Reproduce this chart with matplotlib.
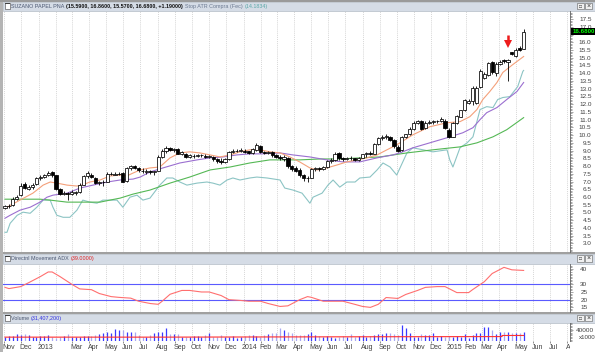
import datetime as dt
import numpy as np
import matplotlib
matplotlib.use("Agg")
import matplotlib.pyplot as plt
from matplotlib.patches import Rectangle

plt.rcParams['font.family'] = ['Liberation Sans', 'DejaVu Sans']

# weekly bars, first bar on 2012-11-02, last on 2015-05-15
first_bar = dt.date(2012, 11, 2)

open_px = [5.30, 5.40, 5.50, 5.90, 6.10, 6.85, 6.50, 6.65, 6.85, 7.20,
           7.30, 7.40, 7.60, 7.40, 6.50, 6.20, 6.25, 6.20, 6.25, 6.30,
           6.80, 7.35, 7.45, 7.25, 6.90, 6.95, 7.00, 7.50, 7.45, 7.50,
           7.55, 7.05, 7.85, 8.00, 7.85, 7.70, 7.60, 7.65, 7.60, 7.70,
           8.60, 8.95, 9.15, 9.05, 9.10, 8.80, 8.80, 8.60, 8.65, 8.65,
           8.70, 8.65, 8.60, 8.60, 8.45, 8.35, 8.25, 8.45, 8.90, 9.00,
           8.95, 9.00, 8.95, 8.85, 9.05, 9.30, 8.90, 8.85, 8.90, 8.70,
           8.60, 8.45, 8.55, 8.00, 7.90, 7.75, 7.40, 7.20, 7.25, 7.80,
           7.85, 7.80, 7.95, 8.30, 8.40, 8.85, 8.50, 8.45, 8.55, 8.50,
           8.40, 8.55, 8.75, 8.85, 8.80, 9.40, 9.80, 9.85, 9.90, 9.70,
           9.25, 9.05, 9.85, 10.05, 10.40, 10.80, 10.90, 10.45, 10.80, 10.85,
           10.90, 10.90, 10.90, 10.35, 9.90, 10.80, 11.20, 11.60, 12.10, 12.20,
           12.05, 13.10, 13.70, 13.90, 14.70, 14.00, 14.60, 14.85, 14.70, 15.35,
           15.10, 15.65, 15.59]
high_px = [5.50, 5.55, 6.00, 6.10, 6.90, 6.95, 6.75, 6.90, 7.30, 7.40,
           7.50, 7.70, 7.65, 7.45, 6.60, 6.40, 6.35, 6.45, 6.40, 6.90,
           7.45, 7.70, 7.55, 7.30, 7.05, 7.10, 7.60, 7.60, 7.60, 7.60,
           7.60, 7.95, 8.10, 8.10, 7.95, 7.85, 7.80, 7.75, 7.70, 8.70,
           9.10, 9.30, 9.25, 9.20, 9.15, 9.00, 8.85, 8.80, 8.75, 8.80,
           8.80, 8.75, 8.70, 8.65, 8.55, 8.50, 8.50, 9.00, 9.10, 9.10,
           9.15, 9.10, 9.00, 9.20, 9.50, 9.35, 9.00, 9.00, 8.95, 8.80,
           8.70, 8.70, 8.60, 8.10, 8.00, 7.85, 7.50, 7.35, 7.90, 7.95,
           7.95, 8.00, 8.40, 8.50, 8.90, 8.90, 8.60, 8.60, 8.65, 8.55,
           8.60, 8.80, 8.90, 8.95, 9.50, 9.90, 10.00, 10.05, 9.95, 9.75,
           9.35, 9.95, 10.10, 10.50, 10.90, 10.95, 10.95, 10.90, 10.95, 10.95,
           11.00, 11.15, 11.05, 10.45, 10.85, 11.30, 11.65, 12.35, 12.35, 13.15,
           13.15, 14.25, 14.05, 14.75, 14.80, 14.70, 14.85, 14.95, 14.95, 15.40,
           15.60, 15.75, 16.86]
low_px = [5.20, 5.30, 5.45, 5.80, 6.05, 6.50, 6.45, 6.55, 6.80, 7.10,
          7.20, 7.35, 7.30, 6.45, 6.10, 6.10, 5.80, 6.10, 6.15, 6.25,
          6.75, 7.25, 7.20, 6.85, 6.80, 6.70, 6.95, 7.40, 7.40, 7.40,
          6.95, 7.00, 7.75, 7.80, 7.60, 7.55, 7.50, 7.50, 7.45, 7.65,
          8.55, 8.85, 8.95, 8.90, 8.75, 8.70, 8.50, 8.55, 8.50, 8.60,
          8.60, 8.55, 8.50, 8.35, 8.20, 8.15, 8.20, 8.40, 8.85, 8.90,
          8.90, 8.85, 8.80, 8.80, 9.00, 8.85, 8.75, 8.80, 8.60, 8.50,
          8.40, 8.35, 7.90, 7.70, 7.60, 7.30, 7.05, 7.00, 7.20, 7.70,
          7.70, 7.75, 7.90, 8.20, 8.35, 8.40, 8.35, 8.40, 8.40, 8.30,
          8.35, 8.50, 8.60, 8.70, 8.75, 9.35, 9.70, 9.75, 9.60, 9.20,
          8.90, 9.00, 9.80, 10.00, 10.35, 10.70, 10.35, 10.40, 10.70, 10.75,
          10.80, 10.85, 10.40, 9.80, 9.85, 10.75, 11.15, 11.55, 12.00, 11.95,
          12.00, 13.05, 13.60, 13.85, 13.95, 13.85, 14.55, 14.65, 13.50, 15.20,
          15.05, 15.45, 15.57]
close_px = [5.40, 5.40, 5.90, 6.00, 6.70, 6.60, 6.65, 6.80, 7.20, 7.30,
            7.40, 7.55, 7.40, 6.55, 6.20, 6.25, 6.20, 6.30, 6.30, 6.80,
            7.35, 7.55, 7.30, 6.90, 6.95, 7.00, 7.50, 7.50, 7.50, 7.50,
            7.00, 7.85, 8.00, 7.90, 7.75, 7.65, 7.70, 7.60, 7.65, 8.60,
            9.00, 9.20, 9.05, 9.10, 8.80, 8.90, 8.60, 8.70, 8.65, 8.70,
            8.70, 8.60, 8.65, 8.45, 8.30, 8.25, 8.45, 8.90, 9.00, 9.00,
            9.05, 8.90, 8.85, 9.10, 9.35, 8.90, 8.85, 8.90, 8.70, 8.60,
            8.50, 8.60, 8.00, 7.80, 7.70, 7.40, 7.20, 7.25, 7.80, 7.85,
            7.80, 7.95, 8.30, 8.40, 8.80, 8.50, 8.45, 8.55, 8.50, 8.40,
            8.55, 8.75, 8.85, 8.80, 9.40, 9.80, 9.85, 9.95, 9.70, 9.30,
            9.00, 9.85, 10.05, 10.40, 10.80, 10.90, 10.40, 10.80, 10.85, 10.90,
            10.90, 11.05, 10.45, 9.85, 10.80, 11.25, 11.60, 12.25, 12.20, 13.05,
            13.05, 14.15, 13.95, 14.65, 14.05, 14.60, 14.75, 14.80, 14.85, 15.25,
            15.50, 15.50, 16.68]

volume_m = [16, 18, 18, 25, 22, 25, 22, 16, 16, 19,
            18, 22, 16, 10, 16, 18, 24, 16, 16, 16,
            18, 19, 18, 22, 25, 28, 34, 28, 42, 40,
            40, 34, 34, 31, 22, 13, 16, 22, 28, 34,
            34, 48, 25, 24, 24, 16, 16, 16, 18, 18,
            16, 22, 28, 13, 16, 22, 16, 16, 18, 10,
            16, 19, 21, 22, 19, 16, 22, 25, 30, 28,
            46, 40, 34, 30, 22, 22, 22, 24, 34, 22,
            18, 16, 18, 13, 10, 16, 18, 16, 24, 16,
            18, 22, 16, 18, 22, 24, 24, 28, 28, 26,
            22, 58, 46, 30, 16, 16, 24, 20, 22, 28,
            16, 18, 16, 18, 16, 17, 16, 24, 12, 20,
            28, 28, 50, 50, 40, 24, 34, 34, 31, 28,
            28, 28, 31.4]
vol_avg_week = [0, 40, 80, 100, 126.5, 126.5, 132]
vol_avg_m = [14, 14, 15, 15.5, 16, 20, 20]

# indicator lines: (week index, value)
ema_fast_week = [0.5, 3.8, 7.1, 9.7, 11.5, 13.2, 15.8, 18.3, 19.6, 21.6, 24.2, 26.7, 29.3, 31,
                 32.6, 34.4, 36.9, 39.4, 42, 44.5, 47, 49.6, 52.2, 54.7, 57.3, 59.8, 62.3, 64.9,
                 67.4, 70, 72.5, 75, 77.6, 79.4, 81.9, 84.5, 87, 89.6, 92.1, 94.7, 97.2, 99.7,
                 103.8, 108.1, 112.5, 115.8, 118.3, 120.1, 121.6, 123.4, 125.2, 126.7, 129.3, 132]
ema_fast = [5.34, 5.80, 6.25, 6.77, 6.97, 6.90, 6.77, 6.71, 6.77, 6.97, 7.10, 7.36, 7.42, 7.36,
            7.55, 7.75, 7.88, 7.94, 8.53, 8.85, 8.92, 8.85, 8.72, 8.59, 8.72, 8.92, 9.05, 9.05,
            8.92, 8.85, 8.59, 8.27, 7.88, 7.75, 7.88, 8.07, 8.27, 8.40, 8.53, 8.72, 9.05, 9.37,
            10.02, 10.54, 10.80, 10.87, 11.19, 11.65, 12.30, 12.82, 13.40, 14.05, 14.57, 15.08]

ema_mid_week = [0, 1.3, 3.8, 6.4, 8.9, 10.7, 12.2, 15.8, 19.1, 22.4, 26, 29.3, 32.6, 34.4,
                36.9, 40.2, 44.5, 48.9, 52.2, 55.5, 59, 62.3, 65.6, 70, 73.3, 77.6, 81.9, 86,
                90.3, 94.7, 98.7, 100.5, 103.8, 108.1, 112.5, 116.5, 119.1, 120.9, 122.6,
                125.2, 127.7, 130.3, 132]
ema_mid = [4.63, 4.82, 5.15, 5.34, 5.67, 5.99, 6.12, 6.25, 6.58, 6.77, 6.97, 7.10, 7.16, 7.29,
           7.62, 7.88, 8.20, 8.40, 8.53, 8.59, 8.72, 8.79, 8.79, 8.85, 8.72, 8.59, 8.40, 8.27,
           8.27, 8.53, 8.72, 8.85, 9.18, 9.50, 9.83, 10.15, 10.48, 11.00, 11.45,
           11.78, 12.30, 12.82, 13.40]

ema_slow_week = [0, 3.8, 8.9, 11.5, 15.8, 20.9, 24.2, 26.7, 29.3, 32.6, 36.9, 42, 47, 52.2,
                 57.3, 62.3, 67.4, 75, 80.2, 85.2, 90.3, 95.4, 102.3, 108.9, 115.8, 120.1,
                 124.2, 127.7, 132]
ema_slow = [5.86, 5.86, 5.86, 5.80, 5.67, 5.67, 5.67, 5.80, 5.93, 6.19, 6.45, 6.90, 7.29, 7.75,
            7.94, 8.20, 8.40, 8.40, 8.46, 8.46, 8.53, 8.59, 8.85, 9.05, 9.24, 9.50,
            9.89, 10.35, 11.13]

stop_week = [0, 0.5, 1.3, 3.1, 4.6, 6.4, 8.1, 9.7, 11.5, 12.2, 13.2, 14.8, 16.5, 18.3, 19.8,
             21.6, 23.4, 24.9, 28.5, 30, 31.8, 33.6, 35.1, 36.9, 39.4, 41.2, 42.7, 44.5, 46.3,
             48.9, 51.4, 52.9, 54.7, 56.5, 58, 59.8, 62.3, 64.1, 66.7, 70, 71.2, 73.3, 75.6,
             77.6, 78.4, 80.7, 82.2, 83.5, 85.2, 87, 89.1, 90.3, 92.9, 94.7, 96.2, 98, 99.7,
             102.3, 103.8, 106.4, 108.9, 112.5, 113.2, 114, 115.8, 117.6, 119.1, 120.9, 122.6,
             124.2, 125.4, 126.7, 128.5, 130.5, 131.8, 132]
stop_atr = [3.72, 3.72, 4.30, 4.82, 5.02, 4.95, 5.34, 5.80, 5.80, 5.34, 4.82, 4.69, 4.69, 5.15, 5.80,
            5.67, 5.60, 5.80, 5.80, 5.34, 5.99, 6.12, 5.80, 5.93, 6.77, 7.23, 7.23, 6.97, 6.77,
            6.90, 6.97, 6.90, 6.77, 7.10, 7.23, 7.10, 7.23, 7.29, 7.23, 7.10, 6.58, 6.45, 6.25,
            5.60, 5.99, 6.25, 6.77, 7.10, 6.64, 6.97, 6.97, 7.23, 7.29, 7.75, 8.20, 7.94, 7.42,
            8.85, 9.18, 9.05, 8.92, 9.05, 8.40, 7.94, 9.18, 9.50, 9.89, 11.65, 11.84,
            11.78, 12.30, 12.43, 12.49, 13.14, 14.12, 14.18]

adx_week = [0, 1, 4, 6, 9, 11, 12, 14, 17, 19, 22, 24, 27, 29, 32, 34, 37, 39, 40, 42, 45, 47,
            50, 52, 55, 57, 60, 62, 65, 67, 70, 72, 75, 77, 78, 81, 83, 86, 89, 91, 93, 95, 97,
            100, 102, 105, 107, 110, 112, 115, 118, 119, 122, 124, 127, 129, 132]
adx = [28, 27.2, 28.5, 31, 35, 38, 38, 35, 30, 27, 26.5, 24, 22, 21.5, 21, 19, 17.5, 17, 19,
       23.5, 26, 26, 25, 25, 22.7, 20, 19.5, 19, 19, 17.5, 15.6, 16, 20, 22, 21.5, 19, 19, 19,
       17, 15.6, 15, 17, 21.4, 20.8, 23.4, 26, 28, 28.5, 28.5, 24.6, 24.6, 26.5, 31.7, 37, 41,
       39.4, 39]

W, H = 595, 352
fig = plt.figure(figsize=(W / 100, H / 100), dpi=100)


def px_axes(x0, y0, x1, y1):
    return fig.add_axes([x0 / W, 1 - y1 / H, (x1 - x0) / W, (y1 - y0) / H])


def fig_rect(x0, y0, x1, y1, fc, ec='none', lw=0):
    fig.patches.append(Rectangle((x0 / W, 1 - y1 / H), (x1 - x0) / W, (y1 - y0) / H,
                                 transform=fig.transFigure, fc=fc, ec=ec, lw=lw, zorder=-5))


XL = (-0.51, 143.8)

# month boundaries in week units
months = []
y, m = 2012, 11
while (y, m) <= (2015, 8):
    months.append(dt.date(y, m, 1))
    m += 1
    if m > 12:
        y, m = y + 1, 1
month_pos = [(d - first_bar).days / 7 for d in months]


def month_grid(ax):
    for p in month_pos:
        ax.axvline(p, color='#c8c8c8', lw=0.5, ls=(0, (1.5, 1.5)), zorder=0)


def style_axes(ax):
    ax.set_xlim(*XL)
    ax.set_xticks([])
    for s in ['left', 'top', 'bottom']:
        ax.spines[s].set_visible(False)
    ax.spines['right'].set_color('#606060')
    ax.spines['right'].set_linewidth(0.6)
    ax.yaxis.tick_right()
    ax.tick_params(axis='y', which='both', direction='out', colors='#606060',
                   labelcolor='#404040', labelsize=4.6, length=2.5, width=0.4, pad=13)
    ax.tick_params(axis='y', which='minor', length=1.2)
    ax.patch.set_alpha(0)


# backgrounds / frames
fig_rect(0, 0, 3, H, '#b4b4b4')
fig_rect(0, 0, W, 1.5, '#9a9a9a')
for (a, b) in [(1.5, 11), (254, 263.5), (314, 322.5)]:
    fig_rect(3, a, W, b, '#d5dce6', ec='#a8b0bc', lw=0.4)
fig_rect(3, 251.5, W, 254, '#a0a0a0')
fig_rect(3, 312, W, 314, '#a0a0a0')

# ---------- price panel
ax = px_axes(3, 11, 570, 251.5)
style_axes(ax)
ax.set_ylim(2.48, 18.02)
ticks = np.arange(3.0, 17.51, 0.5)
ax.set_yticks(ticks)
# 16.5 sits under the last-price box, so its label is left blank
ax.set_yticklabels(['' if abs(t - 16.5) < 1e-6 else f'{t:.1f}' for t in ticks])
ax.set_yticks(np.arange(2.5, 18.0, 0.1), minor=True)
for lab in ax.get_yticklabels():
    lab.set_ha('right')
month_grid(ax)

o = np.array(open_px)
h = np.array(high_px)
lo = np.array(low_px)
c = np.array(close_px)
idx = np.arange(len(c))
up = c >= o
ax.plot(stop_week, stop_atr, color='#8cc4c4', lw=0.8, zorder=2)
ax.plot(ema_slow_week, ema_slow, color='#55b855', lw=0.8, zorder=2)
ax.plot(ema_mid_week, ema_mid, color='#9b6fd0', lw=0.8, zorder=2)
ax.plot(ema_fast_week, ema_fast, color='#f4a07a', lw=0.8, zorder=2)
ax.vlines(idx, lo, h, color='black', lw=0.6, zorder=3)
ax.bar(idx, np.abs(c - o), bottom=np.minimum(o, c), width=0.82,
       color=np.where(up, 'white', 'black'), edgecolor='black', lw=0.55, zorder=4)

# red marker arrow over the long-tailed week
ax.vlines(128, 16.02, 16.48, color='#ee1c1c', lw=1.8, zorder=6)
ax.plot(128, 15.86, marker='v', ms=5.2, color='#ee1c1c', mew=0, zorder=6)

ax.text(1.004, 16.68, '16.6800', transform=ax.get_yaxis_transform(), fontsize=4.4,
        color='#00ff00', va='center', ha='left', fontweight='bold', zorder=10,
        bbox=dict(boxstyle='square,pad=0.15', fc='black', ec='none'), clip_on=False)

# ---------- ADX panel
ax2 = px_axes(3, 263.5, 570, 312)
style_axes(ax2)
ax2.set_ylim(12, 43.5)
ax2.set_yticks([15, 20, 25, 30, 40])
ax2.set_yticks(np.arange(13, 43, 1), minor=True)
for lab in ax2.get_yticklabels():
    lab.set_ha('right')
ax2.tick_params(axis='y', pad=10)
month_grid(ax2)
ax2.axhline(30, color='#5a5aff', lw=0.8, zorder=2)
ax2.axhline(20, color='#5a5aff', lw=0.8, zorder=2)
ax2.plot(adx_week, adx, color='#ff6f6f', lw=0.8, zorder=3)

# ---------- volume panel
ax3 = px_axes(3, 322.5, 570, 341)
style_axes(ax3)
ax3.set_ylim(0, 67)
ax3.set_yticks([40])
ax3.set_yticklabels(['40000'])
ax3.set_yticks(np.arange(0, 66, 5), minor=True)
for lab in ax3.get_yticklabels():
    lab.set_ha('right')
ax3.tick_params(axis='y', pad=15)
month_grid(ax3)
vol_col = np.where(up, '#3a3aff', '#a9a9f2')
ax3.vlines(idx, 0, volume_m, colors=vol_col, lw=0.9, zorder=2)
ax3.plot(vol_avg_week, vol_avg_m, color='#ff3030', lw=0.8, zorder=3)
ax3.axhline(0, color='#606060', lw=0.6)
ax3.text(1.015, 14, 'x1000', transform=ax3.get_yaxis_transform(), fontsize=4.4,
         color='#404040', ha='left', va='center', clip_on=False)

# ---------- date strip
ax4 = px_axes(3, 341, 570, 352)
ax4.set_xlim(*XL)
ax4.set_ylim(0, 1)
ax4.axis('off')
for d, p in zip(months, month_pos):
    if d == dt.date(2013, 2, 1):
        continue
    lab = str(d.year) if d.month == 1 else d.strftime('%b')
    ax4.text(p - 0.4, 0.45, lab, fontsize=5, color='#404040', ha='left', va='center',
             clip_on=True)
    ax4.vlines(p, 0.85, 1.0, color='#606060', lw=0.5)


# ---------- title bars
TS = 3.9


def title_bar(parts, y):
    t = None
    for txt, col, wt in parts:
        if t is None:
            t = fig.text(11 / W, 1 - y / H, txt, fontsize=TS, color=col, fontweight=wt,
                         va='center', ha='left')
        else:
            t = fig.add_artist(plt.Annotation(txt, xy=(1, 0.5), xycoords=t, va='center',
                                              ha='left', fontsize=TS, color=col, fontweight=wt))
    fig_rect(4.5, y - 3, 10, y + 2.5, 'white', ec='#404040', lw=0.4)
    fig_rect(4.5, y - 3, 10, y - 2, '#404040')
    # window buttons on the right
    fig_rect(577, y - 3.5, 584, y + 3, '#f0f0f0', ec='#606060', lw=0.4)
    fig_rect(585, y - 3.5, 592, y + 3, '#f0f0f0', ec='#606060', lw=0.4)
    fig.text(580.5 / W, 1 - y / H, '\u25a1', fontsize=3.5, ha='center', va='center', color='#303030')
    fig.text(588.5 / W, 1 - y / H, '\u00d7', fontsize=5, ha='center', va='center', color='#303030')


title_bar([('SUZANO PAPEL PNA ', '#4a5670', 'normal'),
           ('(15.5900, 16.8600, 15.5700, 16.6800, +1.19000)', '#101010', 'bold'),
           (', Stop ATR Compra (Fec) ', '#6a7890', 'normal'),
           ('(14.1834)', '#5aa8a8', 'normal')], 6.3)
title_bar([('Directnl Movement ADX ', '#4a5670', 'normal'),
           ('(39.0000)', '#e02020', 'normal')], 258.8)
title_bar([('Volume ', '#4a5670', 'normal'),
           ('(31,407,200)', '#3030e0', 'normal')], 318.3)

fig.savefig('out.png', dpi=100)
